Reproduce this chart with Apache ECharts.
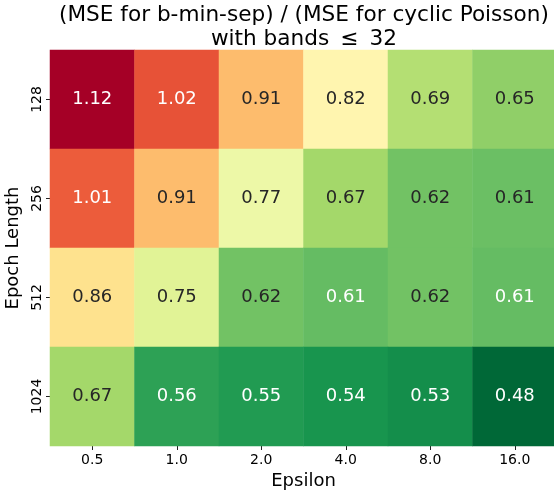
<!DOCTYPE html>
<html>
<head>
<meta charset="utf-8">
<script src="https://cdn.jsdelivr.net/npm/echarts@6/dist/echarts.min.js"></script>
<style>html,body{margin:0;padding:0;background:#fff;}#c{width:554px;height:490px;}</style>
</head>
<body>
<div id="c"></div>
<script>
// ---- data ----
const epsilons = ['0.5', '1.0', '2.0', '4.0', '8.0', '16.0'];
const epochLengths = ['128', '256', '512', '1024'];
const row128 = [1.12, 1.02, 0.91, 0.82, 0.69, 0.65];
const row256 = [1.01, 0.91, 0.77, 0.67, 0.62, 0.613];
const row512 = [0.86, 0.75, 0.62, 0.607, 0.62, 0.607];
const row1024 = [0.67, 0.56, 0.55, 0.54, 0.53, 0.48];
const rows = [row128, row256, row512, row1024];

// RdYlGn reversed (matplotlib RdYlGn_r)
const palette = ['#006837','#1a9850','#66bd63','#a6d96a','#d9ef8b','#ffffbf','#fee08b','#fdae61','#f46d43','#d73027','#a50026'];
const all = rows.flat();
const vmin = Math.min(...all), vmax = Math.max(...all);

function hex2rgb(h){return [parseInt(h.slice(1,3),16),parseInt(h.slice(3,5),16),parseInt(h.slice(5,7),16)];}
function colorAt(v){
  let t = (v - vmin) / (vmax - vmin);
  t = Math.max(0, Math.min(1, t));
  const p = t * (palette.length - 1);
  const i = Math.min(Math.floor(p), palette.length - 2);
  const f = p - i;
  const a = hex2rgb(palette[i]), b = hex2rgb(palette[i+1]);
  return [0,1,2].map(k => a[k] + (b[k]-a[k]) * f);
}
function lum(rgb){
  const c = rgb.map(x => { x /= 255; return x <= 0.03928 ? x/12.92 : Math.pow((x+0.055)/1.055, 2.4); });
  return 0.2126*c[0] + 0.7152*c[1] + 0.0722*c[2];
}

const data = [];
rows.forEach((r, yi) => r.forEach((v, xi) => {
  const L = lum(colorAt(v));
  data.push({ value: [xi, yi, v], label: { color: L > 0.408 ? '#262626' : '#ffffff' } });
}));

const FONT = 'DejaVu Sans';
const chart = echarts.init(document.getElementById('c'), null, { renderer: 'canvas' });
chart.setOption({
  animation: false,
  backgroundColor: '#fff',
  title: {
    text: '(MSE for b-min-sep) / (MSE for cyclic Poisson)\nwith bands \u2009\u2264\u2009 32',
    left: 304, top: 3, padding: 0,
    textAlign: 'center',
    textStyle: { fontFamily: FONT, fontSize: 21.6, fontWeight: 'normal', color: '#000', lineHeight: 24 }
  },
  grid: { left: 50, top: 50, width: 507, height: 396, containLabel: false, outerBoundsMode: 'none' },
  xAxis: {
    type: 'category', data: epsilons,
    name: 'Epsilon', nameLocation: 'middle', nameGap: 22,
    nameTextStyle: { fontFamily: FONT, fontSize: 18, color: '#000' },
    axisLine: { show: false },
    axisTick: { show: true, alignWithLabel: true, length: 4, lineStyle: { color: '#222', width: 1 } },
    axisLabel: { fontFamily: FONT, fontSize: 14, color: '#000', margin: 7 },
    splitArea: { show: false }, splitLine: { show: false }
  },
  yAxis: {
    type: 'category', data: epochLengths, inverse: true,
    name: 'Epoch Length', nameLocation: 'middle', nameGap: 24, nameRotate: 90,
    nameTextStyle: { fontFamily: FONT, fontSize: 18, color: '#000' },
    axisLine: { show: false },
    axisTick: { show: true, alignWithLabel: true, length: 4, lineStyle: { color: '#222', width: 1 } },
    axisLabel: { fontFamily: FONT, fontSize: 14, color: '#000', rotate: 90, margin: 6 },
    splitArea: { show: false }, splitLine: { show: false }
  },
  visualMap: {
    show: false, type: 'continuous', dimension: 2, min: vmin, max: vmax,
    inRange: { color: palette }
  },
  series: [{
    type: 'heatmap',
    data: data,
    itemStyle: { borderWidth: 0 },
    emphasis: { disabled: true },
    label: {
      show: true, fontFamily: FONT, fontSize: 18,
      formatter: p => p.value[2].toFixed(2)
    }
  }]
});
</script>
</body>
</html>
